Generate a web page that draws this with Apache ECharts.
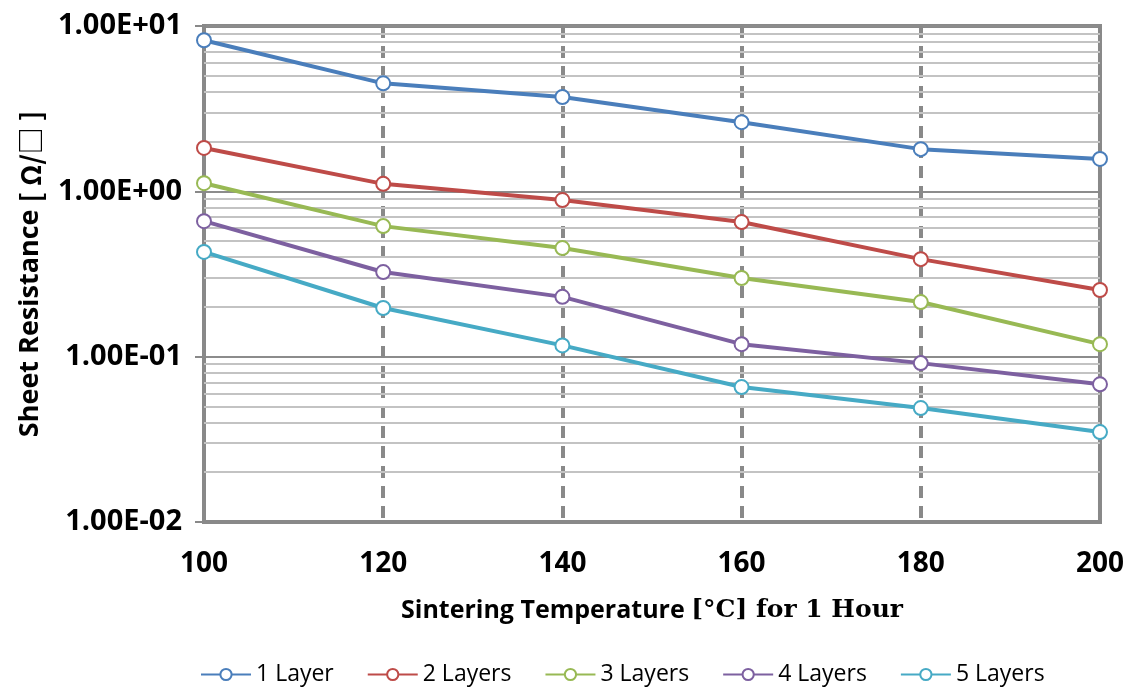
<!DOCTYPE html>
<html>
<head>
<meta charset="utf-8">
<script src="https://cdn.jsdelivr.net/npm/echarts@6/dist/echarts.min.js"></script>
<style>html,body{margin:0;padding:0;background:#fff;}#c{width:1127px;height:687px;}</style>
</head>
<body>
<div id="c"></div>
<script>
const temps = [100, 120, 140, 160, 180, 200];
const seriesNames = ['1 Layer', '2 Layers', '3 Layers', '4 Layers', '5 Layers'];
const layer1 = [8.2, 4.5, 3.72, 2.62, 1.80, 1.57];
const layer2 = [1.83, 1.11, 0.885, 0.652, 0.389, 0.253];
const layer3 = [1.12, 0.616, 0.454, 0.299, 0.214, 0.119];
const layer4 = [0.66, 0.325, 0.23, 0.119, 0.0914, 0.068];
const layer5 = [0.43, 0.197, 0.117, 0.0655, 0.0489, 0.035];
const minorGridValues = [0.02,0.03,0.04,0.05,0.06,0.07,0.08,0.09,0.2,0.3,0.4,0.5,0.6,0.7,0.8,0.9,2,3,4,5,6,7,8,9];
const colors = ['#4a7ebb', '#be4b48', '#98b954', '#7d60a0', '#46aac5'];
const allData = [layer1, layer2, layer3, layer4, layer5];

const chart = echarts.init(document.getElementById('c'));
const series = allData.map((d, i) => ({
  name: seriesNames[i],
  type: 'line',
  z: 5,
  data: temps.map((t, j) => [t, d[j]]),
  symbol: 'circle',
  symbolSize: 14,
  lineStyle: { color: colors[i], width: 4 },
  itemStyle: { color: '#fff', borderColor: colors[i], borderWidth: 2 },
  emphasis: { disabled: true }
}));
series.push({
  type: 'line',
  z: 1,
  data: [],
  silent: true,
  markLine: {
    silent: true,
    symbol: 'none',
    label: { show: false },
    lineStyle: { color: '#c3c3c3', width: 2, type: 'solid' },
    emphasis: { disabled: true },
    data: minorGridValues.map(v => ({ yAxis: v }))
  }
});

chart.setOption({
  animation: false,
  color: colors,
  grid: { left: 204, right: 27, top: 26, bottom: 165, show: true, borderColor: '#898989', borderWidth: 4 },
  xAxis: {
    type: 'value', min: 100, max: 200, interval: 20,
    axisLine: { show: true, lineStyle: { color: '#898989', width: 4 } },
    axisTick: { show: false },
    axisLabel: { margin: 28, fontFamily: 'Open Sans', fontWeight: 'bold', fontSize: 28, color: '#000' },
    splitLine: { show: true, lineStyle: { color: '#898989', width: 4, type: [12, 8] } },
    name: '{a|Sintering Temperature }{b|[°C] for 1 Hour}',
    nameLocation: 'middle', nameGap: 76,
    nameTextStyle: {
      fontSize: 25, fontWeight: 'bold', fontFamily: 'Open Sans', color: '#000',
      rich: {
        a: { fontFamily: 'Open Sans', fontWeight: 'bold', fontSize: 25, color: '#000' },
        b: { fontFamily: 'DejaVu Serif', fontWeight: 'bold', fontSize: 25, color: '#000' }
      }
    }
  },
  yAxis: {
    type: 'log', logBase: 10, min: 0.01, max: 10,
    axisLine: { show: true, lineStyle: { color: '#898989', width: 4 } },
    axisTick: { show: true, inside: false, length: 9, lineStyle: { color: '#898989', width: 2 } },
    axisLabel: {
      margin: 22, fontFamily: 'Open Sans', fontWeight: 'bold', fontSize: 29, color: '#000',
      formatter: v => {
        const e = Math.round(Math.log10(v));
        const s = e < 0 ? '-' : '+';
        return '1.00E' + s + String(Math.abs(e)).padStart(2, '0');
      }
    },
    splitLine: { show: true, lineStyle: { color: '#8c8c8c', width: 2 } },
    name: '{a|Sheet Resistance }{b|[ Ω/□ ]}',
    nameLocation: 'middle', nameGap: 160,
    nameTextStyle: {
      fontSize: 27, fontWeight: 'bold', fontFamily: 'Open Sans', color: '#000',
      rich: {
        a: { fontFamily: 'Open Sans', fontWeight: 'bold', fontSize: 27, color: '#000' },
        b: { fontFamily: 'Noto Sans CJK SC', fontSize: 27, color: '#000' }
      }
    }
  },
  legend: {
    data: seriesNames,
    bottom: -4, left: 195,
    itemWidth: 50, itemHeight: 14, itemGap: 33,
    textStyle: { fontFamily: 'Open Sans', fontSize: 23, color: '#000' }
  },
  series: series
});
</script>
</body>
</html>
